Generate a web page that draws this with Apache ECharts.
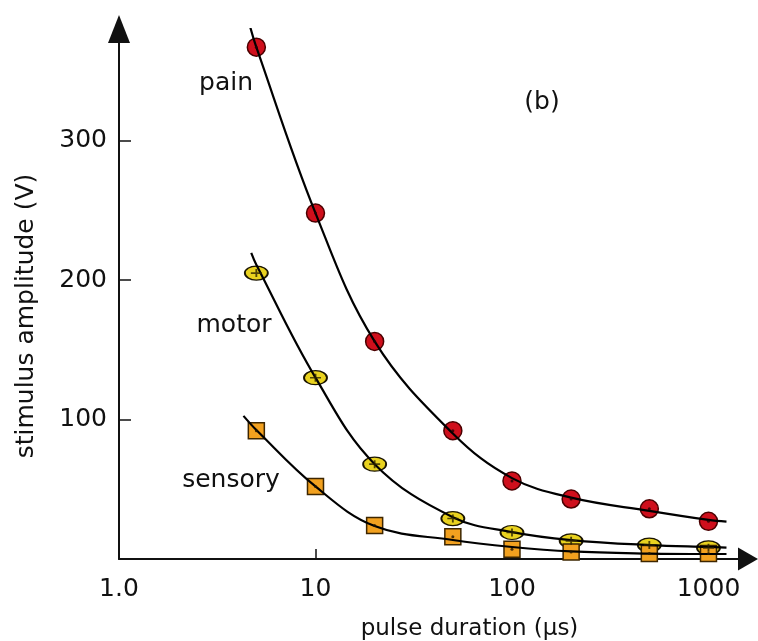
<!DOCTYPE html>
<html><head><meta charset="utf-8">
<script src="https://cdn.jsdelivr.net/npm/echarts@6/dist/echarts.min.js"></script>
<style>html,body{margin:0;padding:0;background:#fff}#c{width:758px;height:641px}</style>
</head><body><div id="c"></div>
<script>
// pulse durations (µs) of the measured points
const durations = [5, 10, 20, 50, 100, 200, 500, 1000];
// measured threshold amplitudes (V)
const painValues = [367, 248, 156, 92, 56, 43, 36, 27];
const motorValues = [205, 130, 68, 29, 19, 13, 10, 8];
const sensoryValues = [92, 52, 24, 16, 7, 5, 4, 4];
// fitted curves
const curveDurations = [5, 10, 20, 50, 100, 200, 500, 1000, 1235];
const painCurve = [367, 248, 156, 90, 58, 44, 34.5, 28, 26.8];
const motorCurve = [211, 130, 68, 30, 19.3, 13.6, 10, 8.6, 8.2];
const sensoryCurve = [92.5, 52, 23.6, 13.6, 8.6, 5.4, 3.9, 3.6, 3.6];
// where each fitted line starts (duration, amplitude)
const painCurveStart = [4.6, 384];
const motorCurveStart = [4.71, 219.5];
const sensoryCurveStart = [4.3, 102.6];
// tick labels
const xTickValues = [1, 10, 100, 1000];
const yTickValues = [100, 200, 300];
const curveNames = ['pain', 'motor', 'sensory'];

const FONT = 'DejaVu Sans';
const INK = '#111';

function pts(vals) { return durations.map((d, i) => [d, vals[i]]); }
function curvePts(start, vals) { return [start].concat(curveDurations.map((d, i) => [d, vals[i]])); }

const chart = echarts.init(document.getElementById('c'), null, {renderer: 'canvas'});

const lineCommon = {
  type: 'line', smooth: 0.38, showSymbol: false, symbol: 'none',
  lineStyle: {color: '#000', width: 2.2}, z: 3, silent: true
};
const txt = (s, x, y) => ({type: 'text', x: x, y: y,
  style: {text: s, font: '25px "DejaVu Sans"', fill: INK, textAlign: 'center', textVerticalAlign: 'middle'}});

chart.setOption({
  animation: false,
  backgroundColor: '#fff',
  grid: {left: 119, right: 10, top: 29, bottom: 82, containLabel: false, outerBoundsMode: 'none'},
  xAxis: {
    type: 'log', logBase: 10, min: 1, max: 1589,
    name: 'pulse duration (µs)', nameLocation: 'middle', nameGap: 59,
    nameTextStyle: {fontFamily: FONT, fontSize: 23, color: INK, padding: [0, 0, 0, 72]},
    axisLine: {show: true, lineStyle: {color: INK, width: 2}, symbol: ['none', 'triangle'], symbolSize: [23, 20]},
    axisTick: {show: true, inside: true, length: 10, lineStyle: {color: INK, width: 1.5}, customValues: [10, 100, 1000]},
    axisLabel: {customValues: xTickValues, margin: 18, fontFamily: FONT, fontSize: 25, color: INK,
      formatter: v => Math.round(v) === 1 ? '1.0' : String(Math.round(v))},
    splitLine: {show: false}, minorTick: {show: false}
  },
  yAxis: {
    type: 'value', min: 0, max: 380, interval: 100,
    name: 'stimulus amplitude (V)', nameLocation: 'middle', nameGap: 80, nameRotate: 90,
    nameTextStyle: {fontFamily: FONT, fontSize: 25, color: INK, padding: [0, 44, 0, 0]},
    axisLine: {show: true, lineStyle: {color: INK, width: 2}, symbol: ['none', 'triangle'], symbolSize: [22, 28]},
    axisTick: {show: true, inside: true, length: 12, lineStyle: {color: INK, width: 1.5}, customValues: yTickValues},
    axisLabel: {customValues: yTickValues, margin: 12, fontFamily: FONT, fontSize: 25, color: INK},
    splitLine: {show: false}
  },
  graphic: [
    txt(curveNames[0], 226, 83),
    txt(curveNames[1], 234, 325),
    txt(curveNames[2], 231, 480),
    txt('(b)', 542, 102)
  ],
  series: [
    {name: 'pain', type: 'scatter', data: pts(painValues), symbol: 'circle', symbolSize: 18, z: 2,
      itemStyle: {color: '#cf0f1c', borderColor: '#4a0000', borderWidth: 1.5, opacity: 1}},
    {name: 'motor', type: 'scatter', data: pts(motorValues), symbol: 'circle', symbolSize: [23, 14], z: 2,
      itemStyle: {color: '#e9d21f', borderColor: '#1a1400', borderWidth: 1.5, opacity: 1}},
    {name: 'sensory', type: 'scatter', data: pts(sensoryValues), symbol: 'rect', symbolSize: 16, z: 2,
      itemStyle: {color: '#f2a11f', borderColor: '#3d2600', borderWidth: 1.5, opacity: 1}},
    Object.assign({name: 'pain fit', data: curvePts(painCurveStart, painCurve)}, lineCommon),
    Object.assign({name: 'motor fit', data: curvePts(motorCurveStart, motorCurve)}, lineCommon),
    Object.assign({name: 'sensory fit', data: curvePts(sensoryCurveStart, sensoryCurve)}, lineCommon),
    {name: 'pain dot', type: 'scatter', data: pts(painValues), symbol: 'circle', symbolSize: 3, z: 4,
      itemStyle: {color: '#220000'}},
    {name: 'motor cross', type: 'scatter', data: pts(motorValues), z: 4,
      symbol: 'path://M0,4L12,4L12,6L0,6Z M5,0L7,0L7,10L5,10Z', symbolSize: [11, 8],
      itemStyle: {color: '#2a2200'}},
    {name: 'sensory dot', type: 'scatter', data: pts(sensoryValues), symbol: 'circle', symbolSize: 3, z: 4,
      itemStyle: {color: '#221500'}}
  ]
});
</script>
</body></html>
